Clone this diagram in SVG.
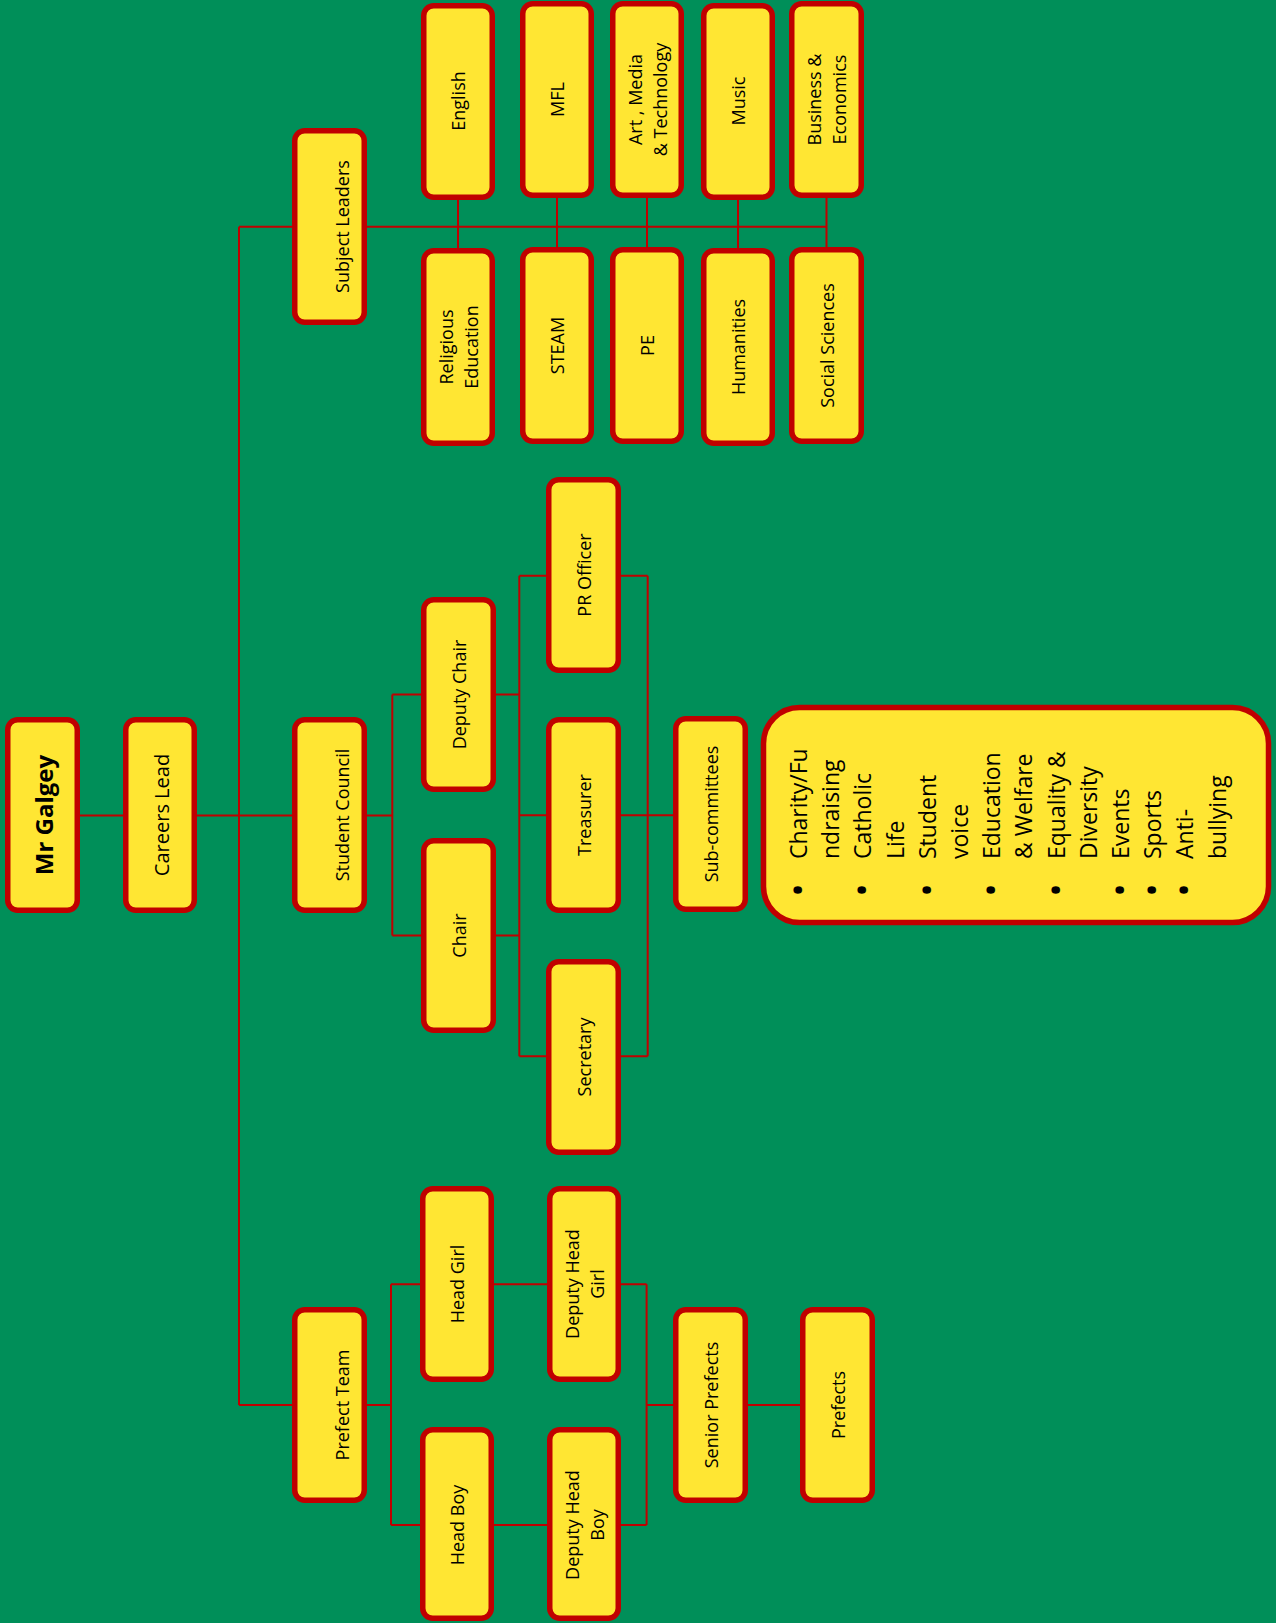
<svg xmlns="http://www.w3.org/2000/svg" width="1276" height="1623" viewBox="0 0 1276 1623">
<style>
.box{fill:#FFE633;stroke:#C00000;stroke-width:5.5}
.t{font-family:"Open Sans","Liberation Sans",sans-serif;font-size:18px;fill:#000;text-anchor:middle;dominant-baseline:central}
.big{font-size:20px}
.bold{font-size:24px;font-weight:bold}
.li{font-family:"Open Sans","Liberation Sans",sans-serif;font-size:23px;fill:#000}
.bu{font-size:36px;text-anchor:middle;dominant-baseline:central}
.conn{fill:none;stroke:#C00000;stroke-width:2}
</style>
<rect x="0" y="0" width="1276" height="1623" fill="#008F59"/>
<g id="connectors" class="conn">
<path d="M80 815.5H123M197 815.5H292M239 226.7V1405M239 226.7H292M239 1405H292"/>
<path d="M367 226.7H826.5M458 200V248M557 198V247M647 198V247M738 200V248M826.5 198V247"/>
<path d="M367 815.5H392.3M392.3 694.6V935.6M392.3 694.6H421M392.3 935.6H421M496 694.6H519.3M496 935.6H519.3"/>
<path d="M519.3 575.8V1056.2M519.3 575.8H546M519.3 815.3H546M519.3 1056.2H546M621 575.8H647.7M621 815.3H673M621 1056.2H647.7M647.7 575.8V1056.2"/>
<path d="M367 1405H391M391 1284.3V1525M391 1284.3H420M391 1525H420M494 1284.3H547M494 1525H547M621 1284.3H646.6M621 1525H646.6M646.6 1284.3V1525M646.6 1405H673M748 1405H800"/>
</g>
<g id="mr-galgey"><rect class="box" x="7.75" y="719.75" width="69.5" height="190.5" rx="10"/><text class="t bold" x="43" y="815" transform="rotate(-90 43 815)">Mr Galgey</text></g>
<g id="careers-lead"><rect class="box" x="125.75" y="719.75" width="68.5" height="190.5" rx="10"/><text class="t big" x="161" y="815" transform="rotate(-90 161 815)">Careers Lead</text></g>
<g id="student-council"><rect class="box" x="294.75" y="719.75" width="69.5" height="190.5" rx="10"/><text class="t" x="342" y="815" transform="rotate(-90 342 815)">Student Council</text></g>
<g id="subject-leaders"><rect class="box" x="294.75" y="130.75" width="69.5" height="191.5" rx="10"/><text class="t" x="342" y="226.5" transform="rotate(-90 342 226.5)">Subject Leaders</text></g>
<g id="prefect-team"><rect class="box" x="294.75" y="1309.75" width="69.5" height="190.5" rx="10"/><text class="t" x="342" y="1405" transform="rotate(-90 342 1405)">Prefect Team</text></g>
<g id="english"><rect class="box" x="423.75" y="5.75" width="68.5" height="191.5" rx="10"/><text class="t" x="458" y="101" transform="rotate(-90 458 101)">English</text></g>
<g id="religious-education"><rect class="box" x="423.75" y="250.75" width="68.5" height="192.5" rx="10"/><text class="t" transform="rotate(-90 458 347)"><tspan x="458" y="334.5">Religious</tspan><tspan x="458" y="359.5">Education</tspan></text></g>
<g id="mfl"><rect class="box" x="522.75" y="3.75" width="68.5" height="191.5" rx="10"/><text class="t" x="557" y="99.5" transform="rotate(-90 557 99.5)">MFL</text></g>
<g id="steam"><rect class="box" x="522.75" y="249.75" width="68.5" height="191.5" rx="10"/><text class="t" x="557" y="345.5" transform="rotate(-90 557 345.5)">STEAM</text></g>
<g id="art-media-technology"><rect class="box" x="612.75" y="3.75" width="68.5" height="191.5" rx="10"/><text class="t" transform="rotate(-90 647 99.5)"><tspan x="647" y="87">Art , Media</tspan><tspan x="647" y="112">&amp; Technology</tspan></text></g>
<g id="pe"><rect class="box" x="612.75" y="249.75" width="68.5" height="191.5" rx="10"/><text class="t" x="647" y="345.5" transform="rotate(-90 647 345.5)">PE</text></g>
<g id="music"><rect class="box" x="703.75" y="5.75" width="68.5" height="191.5" rx="10"/><text class="t" x="738" y="101" transform="rotate(-90 738 101)">Music</text></g>
<g id="humanities"><rect class="box" x="703.75" y="250.75" width="68.5" height="192.5" rx="10"/><text class="t" x="738" y="347" transform="rotate(-90 738 347)">Humanities</text></g>
<g id="business-economics"><rect class="box" x="791.75" y="3.75" width="69.5" height="191.5" rx="10"/><text class="t" transform="rotate(-90 826.5 99.5)"><tspan x="826.5" y="87">Business &amp;</tspan><tspan x="826.5" y="112">Economics</tspan></text></g>
<g id="social-sciences"><rect class="box" x="791.75" y="249.75" width="69.5" height="191.5" rx="10"/><text class="t" x="826.5" y="345.5" transform="rotate(-90 826.5 345.5)" font-size="18.5">Social Sciences</text></g>
<g id="deputy-chair"><rect class="box" x="423.75" y="599.75" width="69.5" height="189.5" rx="10"/><text class="t" x="458.5" y="694.5" transform="rotate(-90 458.5 694.5)">Deputy Chair</text></g>
<g id="chair"><rect class="box" x="423.75" y="840.75" width="69.5" height="189.5" rx="10"/><text class="t" x="458.5" y="935.5" transform="rotate(-90 458.5 935.5)">Chair</text></g>
<g id="pr-officer"><rect class="box" x="548.75" y="479.75" width="69.5" height="190.5" rx="10"/><text class="t" x="583.5" y="575" transform="rotate(-90 583.5 575)">PR Officer</text></g>
<g id="treasurer"><rect class="box" x="548.75" y="719.75" width="69.5" height="190.5" rx="10"/><text class="t" x="583.5" y="815" transform="rotate(-90 583.5 815)">Treasurer</text></g>
<g id="secretary"><rect class="box" x="548.75" y="961.75" width="69.5" height="190.5" rx="10"/><text class="t" x="583.5" y="1057" transform="rotate(-90 583.5 1057)">Secretary</text></g>
<g id="sub-committees"><rect class="box" x="675.75" y="718.75" width="69.5" height="190.5" rx="10"/><text class="t" x="710.5" y="814" transform="rotate(-90 710.5 814)">Sub-committees</text></g>
<g id="sub-committee-list"><rect class="box" x="763.5" y="707.5" width="505" height="215" rx="36"/>
<g class="li" transform="rotate(-90)">
<text class="bu" x="-890" y="797.5">•</text><text x="-859" y="807">Charity/Fu</text>
<text x="-859" y="839.2">ndraising</text>
<text class="bu" x="-890" y="861.9">•</text><text x="-859" y="871.4">Catholic</text>
<text x="-859" y="903.6">Life</text>
<text class="bu" x="-890" y="926.3">•</text><text x="-859" y="935.8">Student</text>
<text x="-859" y="968">voice</text>
<text class="bu" x="-890" y="990.7">•</text><text x="-859" y="1000.2">Education</text>
<text x="-859" y="1032.4">&amp; Welfare</text>
<text class="bu" x="-890" y="1055.1">•</text><text x="-859" y="1064.6">Equality &amp;</text>
<text x="-859" y="1096.8">Diversity</text>
<text class="bu" x="-890" y="1119.5">•</text><text x="-859" y="1129">Events</text>
<text class="bu" x="-890" y="1151.7">•</text><text x="-859" y="1161.2">Sports</text>
<text class="bu" x="-890" y="1183.9">•</text><text x="-859" y="1193.4">Anti-</text>
<text x="-859" y="1225.6">bullying</text>
</g></g>
<g id="head-girl"><rect class="box" x="422.75" y="1188.75" width="68.5" height="190.5" rx="10"/><text class="t" x="457" y="1284" transform="rotate(-90 457 1284)">Head Girl</text></g>
<g id="head-boy"><rect class="box" x="422.75" y="1429.75" width="68.5" height="188.5" rx="10"/><text class="t" x="457" y="1525" transform="rotate(-90 457 1525)">Head Boy</text></g>
<g id="deputy-head-girl"><rect class="box" x="549.75" y="1188.75" width="68.5" height="190.5" rx="10"/><text class="t" transform="rotate(-90 584 1284)"><tspan x="584" y="1271.5">Deputy Head</tspan><tspan x="584" y="1296.5">Girl</tspan></text></g>
<g id="deputy-head-boy"><rect class="box" x="549.75" y="1429.75" width="68.5" height="188.5" rx="10"/><text class="t" transform="rotate(-90 584 1525)"><tspan x="584" y="1512.5">Deputy Head</tspan><tspan x="584" y="1537.5">Boy</tspan></text></g>
<g id="senior-prefects"><rect class="box" x="675.75" y="1309.75" width="69.5" height="190.5" rx="10"/><text class="t" x="710.5" y="1405" transform="rotate(-90 710.5 1405)">Senior Prefects</text></g>
<g id="prefects"><rect class="box" x="802.75" y="1309.75" width="69.5" height="190.5" rx="10"/><text class="t" x="837.5" y="1405" transform="rotate(-90 837.5 1405)">Prefects</text></g>
</svg>
